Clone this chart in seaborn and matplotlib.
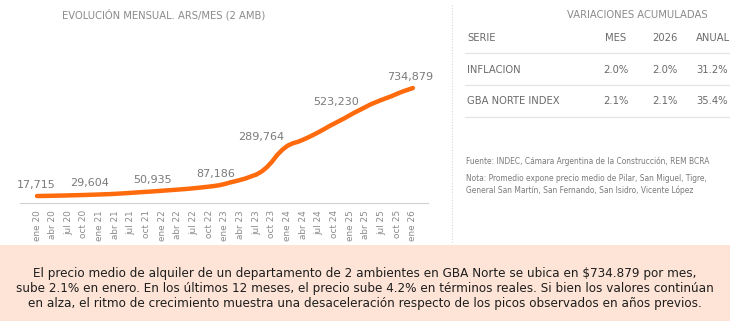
import numpy as np
import pandas as pd
import matplotlib
matplotlib.use("Agg")
import matplotlib.pyplot as plt
from matplotlib.patches import Rectangle
from matplotlib.lines import Line2D
import seaborn as sns

# ---------------- data ----------------
month_names = ["ene", "feb", "mar", "abr", "may", "jun",
               "jul", "ago", "sep", "oct", "nov", "dic"]
years = [20, 21, 22, 23, 24, 25, 26]

# monthly average rent, ARS/month, ene 20 .. ene 26
rent = [
    17715, 18300, 19000, 19700, 20400, 21100, 21900, 22800, 23700, 24700, 25800, 27000,   # 2020
    28200, 29400, 30600, 32500, 34500, 36700, 39000, 41300, 43600, 45800, 48000, 50500,   # 2021
    53000, 55500, 58000, 60500, 63200, 66000, 69300, 72800, 76500, 80500, 84700, 90000,   # 2022
    98000, 108000, 116000, 125000, 135000, 148000, 160000, 180000, 208000, 245000, 290000, 325000,  # 2023
    352000, 368000, 378000, 392000, 408000, 425000, 443000, 462000, 482000, 500000, 518000, 536000,  # 2024
    556000, 575000, 592000, 610000, 628000, 642000, 656000, 669000, 682000, 697000, 711000, 723000,  # 2025
    734879,  # ene 26
]

# annotated values (January of each year)
label_values = [17715, 29604, 50935, 87186, 289764, 523230, 734879]
label_months = [0, 12, 24, 36, 48, 60, 72]

# table
table_header = ["SERIE", "MES", "2026", "ANUAL"]
table_series = ["INFLACION", "GBA NORTE INDEX"]
table_mes = ["2.0%", "2.1%"]
table_ytd = ["2.0%", "2.1%"]
table_anual = ["31.2%", "35.4%"]

month_labels = [f"{month_names[i % 12]} {years[i // 12]}" for i in range(len(rent))]
df = pd.DataFrame({"idx": np.arange(len(rent)), "rent": rent, "mes": month_labels})

# ---------------- figure ----------------
sns.set_style("white")
plt.rcParams["font.family"] = ["DejaVu Sans"]

W, H = 730, 321
fig = plt.figure(figsize=(W / 100, H / 100), dpi=100)
fig.patch.set_facecolor("white")

def fx(px):
    return px / W

def fy(py):
    return 1 - py / H

# bottom peach box
fig.patches.append(Rectangle((0, 0), 1, fy(245), transform=fig.transFigure,
                             facecolor="#fde4d6", edgecolor="none", zorder=0))

# chart axes
ax = fig.add_axes([fx(20), fy(203), fx(428) - fx(20), fy(48) - fy(203)])
ax.set_facecolor("none")
sns.lineplot(data=df, x="idx", y="rent", ax=ax, color="#ff6a0d", linewidth=3.2,
             solid_capstyle="round", solid_joinstyle="round")
ax.set_xlim(-3.26, 74.9)
ax.set_ylim(-28500, 1000600)
for s in ["top", "right", "left"]:
    ax.spines[s].set_visible(False)
ax.spines["bottom"].set_color("#d0d0d0")
ax.spines["bottom"].set_linewidth(0.8)
ticks = list(range(0, len(rent), 3))
ax.set_xticks(ticks)
ax.set_xticklabels([month_labels[t] for t in ticks], rotation=90,
                   fontsize=6.4, color="#8a8a8a")
ax.tick_params(axis="x", length=3, width=0.6, color="#cccccc", pad=2)
ax.set_yticks([])
ax.set_xlabel("")
ax.set_ylabel("")

offsets = [(-0.5, 11.5), (-10, 11.5), (-10, 11), (-9.5, 11.6),
           (-26, 17.6), (-14, 18), (-2.5, 11)]
for m, v, (dx, dy) in zip(label_months, label_values, offsets):
    ax.annotate(f"{v:,}", xy=(m, v), xytext=(dx, dy), textcoords="offset pixels",
                ha="center", va="center", fontsize=8, color="#7a7a7a")

# chart title
fig.text(fx(62), fy(15), "EVOLUCIÓN MENSUAL. ARS/MES (2 AMB)", ha="left", va="center",
         fontsize=7.2, color="#8a8a8a")

# vertical dotted separator
fig.lines.append(Line2D([fx(452), fx(452)], [fy(5), fy(243)], transform=fig.transFigure,
                        color="#d8d8d8", linestyle=(0, (1, 1.5)), linewidth=0.8))

# right panel: table
fig.text(fx(637), fy(15), "VARIACIONES ACUMULADAS", ha="center", va="center",
         fontsize=7.2, color="#8a8a8a")
tcol = "#6a6a6a"
tfs = 7.2
col3 = 696
fig.text(fx(467), fy(38), table_header[0], ha="left", va="center", fontsize=tfs, color=tcol)
fig.text(fx(616), fy(38), table_header[1], ha="center", va="center", fontsize=tfs, color=tcol)
fig.text(fx(665), fy(38), table_header[2], ha="center", va="center", fontsize=tfs, color=tcol)
fig.text(fx(col3), fy(38), table_header[3], ha="left", va="center", fontsize=tfs, color=tcol)
row_y = [70, 101.5]
for ry, name, a, b, c in zip(row_y, table_series, table_mes, table_ytd, table_anual):
    fig.text(fx(467), fy(ry), name, ha="left", va="center", fontsize=tfs, color=tcol)
    fig.text(fx(616), fy(ry), a, ha="center", va="center", fontsize=tfs, color=tcol)
    fig.text(fx(665), fy(ry), b, ha="center", va="center", fontsize=tfs, color=tcol)
    fig.text(fx(col3), fy(ry), c, ha="left", va="center", fontsize=tfs, color=tcol)
for ly in [53, 85, 117]:
    fig.lines.append(Line2D([fx(465), 1.0], [fy(ly), fy(ly)], transform=fig.transFigure,
                            color="#e6e6e6", linewidth=1.0))

# source & note
nfs = 5.45
fig.text(fx(466), fy(161), "Fuente: INDEC, Cámara Argentina de la Construcción, REM BCRA",
         ha="left", va="center", fontsize=nfs, color="#7a7a7a")
fig.text(fx(466), fy(179), "Nota: Promedio expone precio medio de Pilar, San Miguel, Tigre,",
         ha="left", va="center", fontsize=nfs, color="#7a7a7a")
fig.text(fx(466), fy(190), "General San Martín, San Fernando, San Isidro, Vicente López",
         ha="left", va="center", fontsize=nfs, color="#7a7a7a")

# bottom paragraph
para = ("El precio medio de alquiler de un departamento de 2 ambientes en GBA Norte se ubica en $734.879 por mes,\n"
        "sube 2.1% en enero. En los últimos 12 meses, el precio sube 4.2% en términos reales. Si bien los valores continúan\n"
        "en alza, el ritmo de crecimiento muestra una desaceleración respecto de los picos observados en años previos.")
fig.text(0.5, fy(288.5), para, ha="center", va="center", fontsize=8.65, color="#1e1e1e",
         linespacing=1.2)

fig.savefig("out.png", dpi=100)
